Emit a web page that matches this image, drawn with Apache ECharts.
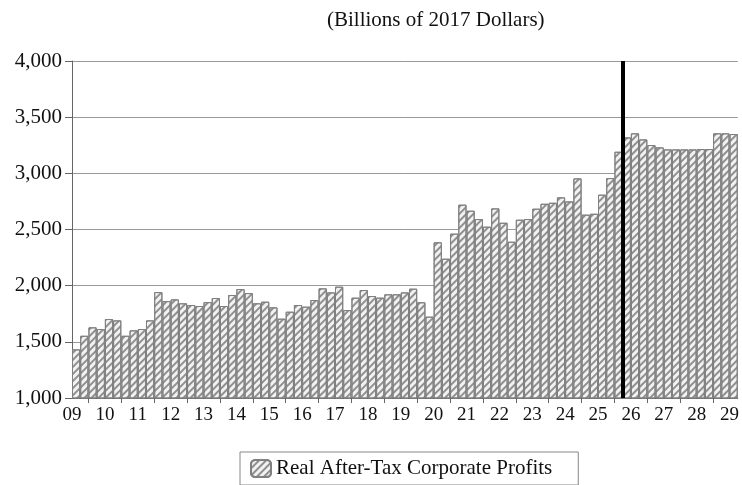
<!DOCTYPE html>
<html>
<head>
<meta charset="utf-8">
<script src="https://cdn.jsdelivr.net/npm/echarts@6/dist/echarts.min.js"></script>
<style>html,body{margin:0;padding:0;background:#fff;}#c{width:742px;height:485px;}</style>
</head>
<body>
<div id="c"></div>
<script>
// Quarterly categories: 2009Q3 .. 2029Q3
var firstYear = 2009, firstQuarter = 3, barCount = 81;
var quarters = [];
(function(){ var y = firstYear, q = firstQuarter; for (var i = 0; i < barCount; i++) { quarters.push(y + 'Q' + q); q++; if (q > 4) { q = 1; y++; } } })();

// Real after-tax corporate profits, billions of 2017 dollars
var profits = [
  1433, 1554,
  1629, 1614, 1703, 1691,
  1554, 1602, 1614, 1691,
  1943, 1863, 1878, 1843,
  1828, 1819, 1854, 1890,
  1819, 1917, 1970, 1934,
  1843, 1857, 1807, 1706,
  1768, 1828, 1813, 1872,
  1976, 1940, 1991, 1783,
  1893, 1961, 1908, 1893,
  1923, 1923, 1940, 1973,
  1852, 1724, 2386, 2240,
  2463, 2721, 2667, 2593,
  2525, 2688, 2560, 2391,
  2587, 2593, 2685, 2729,
  2738, 2786, 2750, 2955,
  2632, 2640, 2810, 2958,
  3192, 3320, 3356, 3302,
  3252, 3231, 3213, 3213,
  3213, 3213, 3216, 3216,
  3356, 3356, 3350
];

var yearLabels = ['09','10','11','12','13','14','15','16','17','18','19','20','21','22','23','24','25','26','27','28','29'];
var forecastStartIndex = 67; // boundary after 2026Q1

// positions on a bar-index scale (bar i spans [i, i+1])
var yearCenters = yearLabels.map(function(_, i){ return i * 4; });
var yearBoundaries = [];
for (var b = 2; b < barCount; b += 4) yearBoundaries.push(b);

var serif = 'Liberation Serif';
var chart = echarts.init(document.getElementById('c'), null, {renderer: 'canvas'});
chart.setOption({
  animation: false,
  backgroundColor: '#fff',
  title: {
    text: '(Billions of 2017 Dollars)',
    left: 322, top: 5,
    textStyle: {fontFamily: serif, fontSize: 21, fontWeight: 'normal', color: '#111'}
  },
  legend: {
    data: ['Real After-Tax Corporate Profits'],
    left: 240, top: 452,
    padding: [6, 26, 6, 10],
    borderColor: '#888', borderWidth: 1,
    itemWidth: 20, itemHeight: 17,
    itemGap: 8,
    textStyle: {fontFamily: serif, fontSize: 21, color: '#111'}
  },
  grid: {left: 72, right: 2, top: 61, bottom: 87, containLabel: false},
  xAxis: [{
    type: 'category',
    data: quarters,
    boundaryGap: true,
    axisLine: {show: true, lineStyle: {color: '#666', width: 1}},
    axisTick: {show: false},
    axisLabel: {show: false},
    splitLine: {show: false}
  }, {
    type: 'value',
    position: 'bottom',
    min: 0, max: barCount,
    axisLine: {show: false},
    splitLine: {show: false},
    axisTick: {show: true, customValues: yearBoundaries, length: 5, lineStyle: {color: '#666'}},
    axisLabel: {
      show: true, customValues: yearCenters, margin: 8,
      fontFamily: serif, fontSize: 19, color: '#111',
      formatter: function(v){ return yearLabels[Math.round(v / 4)]; }
    }
  }],
  yAxis: {
    type: 'value',
    min: 1000, max: 4000, interval: 500,
    axisLine: {show: true, lineStyle: {color: '#666', width: 1}},
    axisTick: {show: true, length: 7, lineStyle: {color: '#666'}},
    splitLine: {show: true, lineStyle: {color: '#999', width: 1}},
    axisLabel: {
      margin: 10, fontFamily: serif, fontSize: 21, color: '#111',
      formatter: function(v){ return v.toLocaleString('en-US'); }
    }
  },
  series: [{
    name: 'Real After-Tax Corporate Profits',
    type: 'bar',
    xAxisIndex: 0,
    data: profits,
    barCategoryGap: '0%',
    itemStyle: {
      color: '#f2f2f2',
      borderColor: '#808080',
      borderWidth: 1,
      decal: {
        symbol: 'rect', symbolSize: 1,
        dashArrayX: [1, 0], dashArrayY: [1.2, 2.6],
        rotation: -Math.PI / 4,
        color: 'rgba(120,120,120,0.8)'
      }
    }
  }, {
    name: 'forecast',
    type: 'line',
    xAxisIndex: 1,
    data: [],
    silent: true,
    markLine: {
      silent: true, symbol: 'none', label: {show: false},
      lineStyle: {color: '#000', width: 4, type: 'solid'},
      data: [{xAxis: forecastStartIndex}]
    }
  }]
});
</script>
</body>
</html>
